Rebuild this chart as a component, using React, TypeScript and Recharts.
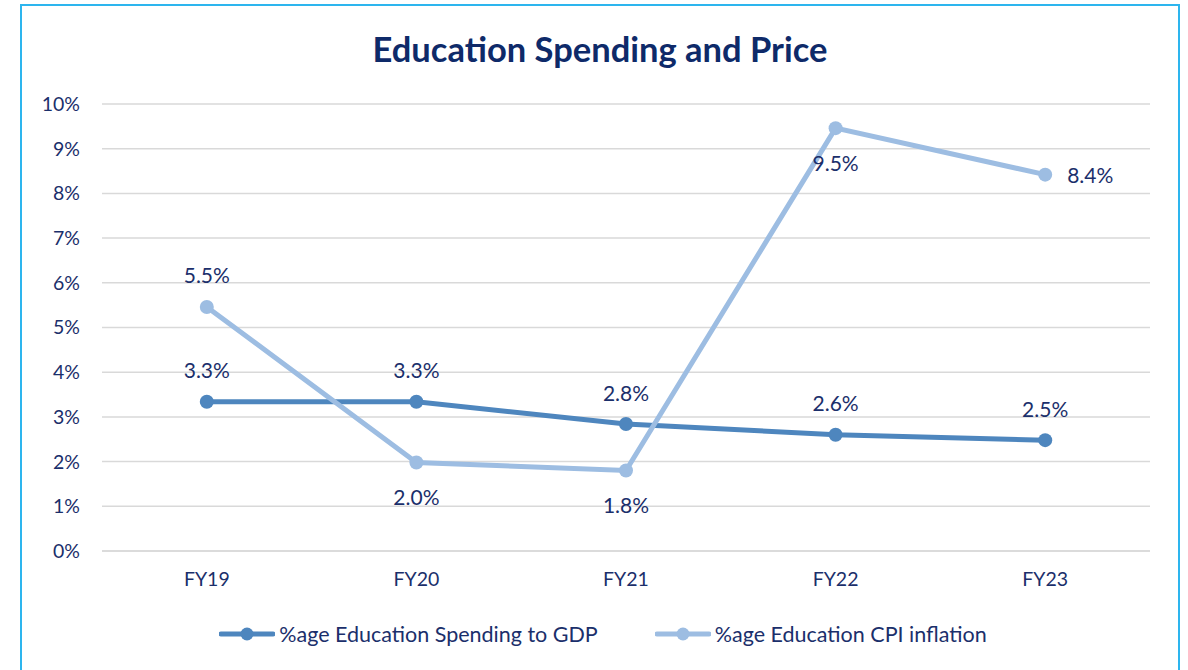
import React from "react";
import {
  LineChart,
  Line,
  XAxis,
  YAxis,
  CartesianGrid,
  Legend,
  LabelList,
} from "recharts";

const categories = ["FY19", "FY20", "FY21", "FY22", "FY23"];
const spendingToGdp = [3.34, 3.34, 2.84, 2.6, 2.48];
const cpiInflation = [5.46, 1.98, 1.8, 9.46, 8.42];
const yTicks = [0, 1, 2, 3, 4, 5, 6, 7, 8, 9, 10];

// where each data label sits relative to its point
const gdpLabelPos = ["above", "above", "above", "above", "above"];
const cpiLabelPos = ["above", "below", "below", "below", "right"];

const data = categories.map((fy, i) => ({
  fy,
  gdp: spendingToGdp[i],
  cpi: cpiInflation[i],
}));

const NAVY = "#1B2F6B";
const GDP_COLOR = "#4E86BE";
const CPI_COLOR = "#9DBDE2";
const FONT = "Lato, 'Open Sans', sans-serif";

const seriesInfo = [
  { name: "%age Education Spending to GDP", color: GDP_COLOR },
  { name: "%age Education CPI inflation", color: CPI_COLOR },
];

const makeLabel = (positions: string[]) => (props: any) => {
  const { x, y, value, index } = props;
  const pos = positions[index];
  let tx = x;
  let ty = y;
  let anchor: "middle" | "start" = "middle";
  if (pos === "above") ty = y - 32;
  if (pos === "below") ty = y + 34;
  if (pos === "right") {
    tx = x + 22;
    anchor = "start";
  }
  return (
    <text
      x={tx}
      y={ty}
      textAnchor={anchor}
      dominantBaseline="central"
      fill={NAVY}
      fontSize={21}
      fontFamily={FONT}
    >
      {`${Number(value).toFixed(1)}%`}
    </text>
  );
};

const LegendContent = () => (
  <div
    style={{
      display: "flex",
      justifyContent: "center",
      alignItems: "center",
      gap: 57,
      paddingLeft: 56,
      fontFamily: FONT,
      fontSize: 21.5,
      color: NAVY,
    }}
  >
    {seriesInfo.map((s) => (
      <div key={s.name} style={{ display: "flex", alignItems: "center" }}>
        <svg width={56} height={16} style={{ marginRight: 4 }}>
          <line
            x1={2}
            y1={8}
            x2={54}
            y2={8}
            stroke={s.color}
            strokeWidth={5}
            strokeLinecap="round"
          />
          <circle cx={28} cy={8} r={6.5} fill={s.color} />
        </svg>
        <span>{s.name}</span>
      </div>
    ))}
  </div>
);

const App = () => {
  return (
    <div
      style={{
        position: "absolute",
        left: 0,
        top: 0,
        width: 1188,
        height: 670,
        overflow: "hidden",
        background: "#fff",
        fontFamily: FONT,
      }}
    >
      {/* frame */}
      <div
        style={{
          position: "absolute",
          left: 20,
          top: 4,
          width: 1156,
          height: 700,
          border: "2px solid #2DB5EE",
        }}
      />
      <div
        style={{
          position: "absolute",
          left: 0,
          top: 27,
          width: 1200,
          textAlign: "center",
          fontSize: 34.5,
          fontWeight: 700,
          color: "#0E2A69",
          lineHeight: "44px",
        }}
      >
        Education Spending and Price
      </div>
      <div style={{ position: "absolute", left: 0, top: 0 }}>
        <LineChart
          width={1188}
          height={670}
          data={data}
          margin={{ top: 104, right: 38, bottom: 19, left: 0 }}
        >
          <CartesianGrid
            vertical={false}
            stroke="#D9D9D9"
            strokeWidth={1.5}
          />
          <XAxis
            dataKey="fy"
            height={70}
            padding={{ left: 104.8, right: 104.8 }}
            axisLine={{ stroke: "#D9D9D9", strokeWidth: 1.5 }}
            tickLine={false}
            tickSize={0}
            tickMargin={21}
            tick={{ fill: NAVY, fontSize: 19.5, fontFamily: FONT }}
          />
          <YAxis
            width={102}
            domain={[0, 10]}
            ticks={yTicks}
            interval={0}
            axisLine={false}
            tickLine={false}
            tickSize={0}
            tickMargin={22}
            tickFormatter={(v: number) => `${v}%`}
            tick={{ fill: NAVY, fontSize: 19.5, fontFamily: FONT }}
          />
          <Legend verticalAlign="bottom" height={30} content={<LegendContent />} />
          <Line
            name={seriesInfo[0].name}
            dataKey="gdp"
            stroke={GDP_COLOR}
            strokeWidth={5}
            dot={{ r: 7, fill: GDP_COLOR, stroke: GDP_COLOR, strokeWidth: 0 }}
            activeDot={false}
            isAnimationActive={false}
          >
            <LabelList dataKey="gdp" content={makeLabel(gdpLabelPos)} />
          </Line>
          <Line
            name={seriesInfo[1].name}
            dataKey="cpi"
            stroke={CPI_COLOR}
            strokeWidth={5}
            dot={{ r: 7, fill: CPI_COLOR, stroke: CPI_COLOR, strokeWidth: 0 }}
            activeDot={false}
            isAnimationActive={false}
          >
            <LabelList dataKey="cpi" content={makeLabel(cpiLabelPos)} />
          </Line>
        </LineChart>
      </div>
    </div>
  );
};

export default App;
